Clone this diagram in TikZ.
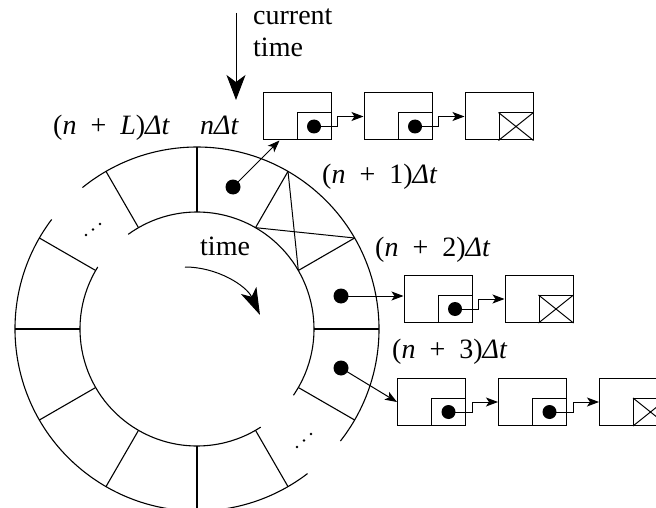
\documentclass[tikz,border=0pt]{standalone}
\usepackage{fontspec}
\setmainfont{Liberation Serif}
\usetikzlibrary{arrows.meta,calc}
\newcommand{\dt}{\textit{Δt}}
\newcommand{\plsp}{\hspace{0.5em}}
\begin{document}
\begin{tikzpicture}[x=1pt,y=1pt,
  lbl/.style={anchor=base west, inner sep=0pt, font=\fontsize{28}{32}\selectfont},
  lbox/.style={draw, line width=1pt, minimum width=68pt, minimum height=47pt, inner sep=0pt},
  sbox/.style={draw, line width=1pt, minimum width=34pt, minimum height=27pt, inner sep=0pt, anchor=south east},
  ldot/.style={circle, fill, inner sep=0pt, minimum size=14pt},
  sdot/.style={circle, fill, inner sep=0pt, minimum size=15pt},
  edot/.style={circle, fill, inner sep=0pt, minimum size=2.8pt},
  lnk/.style={line width=1pt, -{Stealth[length=12pt,width=9pt,inset=3pt]}},
  ring/.style={line width=1.1pt},
  nilx/.style={line width=1pt}
]
\useasboundingbox (0,0) rectangle (656,-508);
\clip (0,0) rectangle (656,-508);

% ring
\coordinate (C) at (197,-329);
\draw[ring] ($(C)+(-38:182)$) arc[start angle=-38,end angle=129,radius=182];
\draw[ring] ($(C)+(143:182)$) arc[start angle=143,end angle=307.4,radius=182];
\draw[ring] ($(C)+(-34.5:117)$) arc[start angle=-34.5,end angle=126,radius=117];
\draw[ring] ($(C)+(148:117)$) arc[start angle=148,end angle=303,radius=117];
\foreach \a in {0,30,...,330}
  \draw[ring] ($(C)+(\a:117)$) -- ($(C)+(\a:182)$);
% crossed slot
\draw[nilx] ($(C)+(60:182)$) -- ($(C)+(30:117)$);
\draw[nilx] ($(C)+(60:117)$) -- ($(C)+(30:182)$);

% ellipsis dots
\node[edot] (e1) at (86,-235) {};
\node[edot] (e2) at (93,-229.5) {};
\node[edot] (e3) at (100,-224) {};
\node[edot] (e4) at (297,-447) {};
\node[edot] (e5) at (304,-440.5) {};
\node[edot] (e6) at (311,-434) {};

% slot dots
\node[sdot] (s0) at (233,-187) {};
\node[sdot] (s2) at (341,-296) {};
\node[sdot] (s3) at (341,-368) {};

% row A
\node[lbox] (a1) at (297,-116.5) {};
\node[sbox] (a1s) at (a1.south east) {};
\node[ldot] (a1d) at (a1s.center) {};
\node[lbox] (a2) at (398,-116.5) {};
\node[sbox] (a2s) at (a2.south east) {};
\node[ldot] (a2d) at (a2s.center) {};
\node[lbox] (a3) at (499,-116.5) {};
\node[sbox] (a3s) at (a3.south east) {};
\draw[nilx] (a3s.north west) -- (a3s.south east) (a3s.south west) -- (a3s.north east);

% row B
\node[lbox] (b1) at (438,-299) {};
\node[sbox] (b1s) at (b1.south east) {};
\node[ldot] (b1d) at (b1s.center) {};
\node[lbox] (b2) at (539,-299) {};
\node[sbox] (b2s) at (b2.south east) {};
\draw[nilx] (b2s.north west) -- (b2s.south east) (b2s.south west) -- (b2s.north east);

% row C
\node[lbox] (c1) at (431.5,-402) {};
\node[sbox] (c1s) at (c1.south east) {};
\node[ldot] (c1d) at (c1s.center) {};
\node[lbox] (c2) at (532.5,-402) {};
\node[sbox] (c2s) at (c2.south east) {};
\node[ldot] (c2d) at (c2s.center) {};
\node[lbox] (c3) at (633.5,-402) {};
\node[sbox] (c3s) at (c3.south east) {};
\draw[nilx] (c3s.north west) -- (c3s.south east) (c3s.south west) -- (c3s.north east);

% links
\draw[lnk] (a1d.center) -| ($(a1.east)+(6,0)$) -- (a2.west);
\draw[lnk] (a2d.center) -| ($(a2.east)+(6,0)$) -- (a3.west);
\draw[lnk] (b1d.center) -| ($(b1.east)+(6,0)$) -- (b2.west);
\draw[lnk] (c1d.center) -| ($(c1.east)+(6,0)$) -- (c2.west);
\draw[lnk] (c2d.center) -| ($(c2.east)+(6,0)$) -- (c3.west);
\coordinate (a1in) at ($(a1.south west)+(17,0)$);
\draw[lnk] (s0.center) -- (a1in);
\draw[lnk] (s2.center) -- (s2 -| b1.west);
\draw[lnk] (s3.center) -- (c1.west);

% current time arrow
\coordinate (ct1) at (236,-13);
\coordinate (ct2) at (236,-100);
\draw[line width=1pt, -{Stealth[length=25pt,width=19pt,inset=7pt]}] (ct1) -- (ct2);
% time arrow
\coordinate (tt) at (185,-267);
\draw[line width=1pt, -{Stealth[length=27pt,width=17pt,inset=7pt]}] (tt) arc[start angle=90,end angle=24.8,radius=82.6];

% labels
\node[lbl, align=left] (cur) at (253,-57) {current\\time};
\node[lbl] (lL) at (53,-135) {(\textit{n}\plsp+\plsp\textit{L})\dt};
\node[lbl] (l0) at (200,-135) {\textit{n}\dt};
\node[lbl] (l1) at (322,-183) {(\textit{n}\plsp+\plsp1)\dt};
\node[lbl] (l2) at (375,-256) {(\textit{n}\plsp+\plsp2)\dt};
\node[lbl] (l3) at (392,-358) {(\textit{n}\plsp+\plsp3)\dt};
\node[lbl] (lt) at (200,-255) {time};
\end{tikzpicture}
\end{document}
